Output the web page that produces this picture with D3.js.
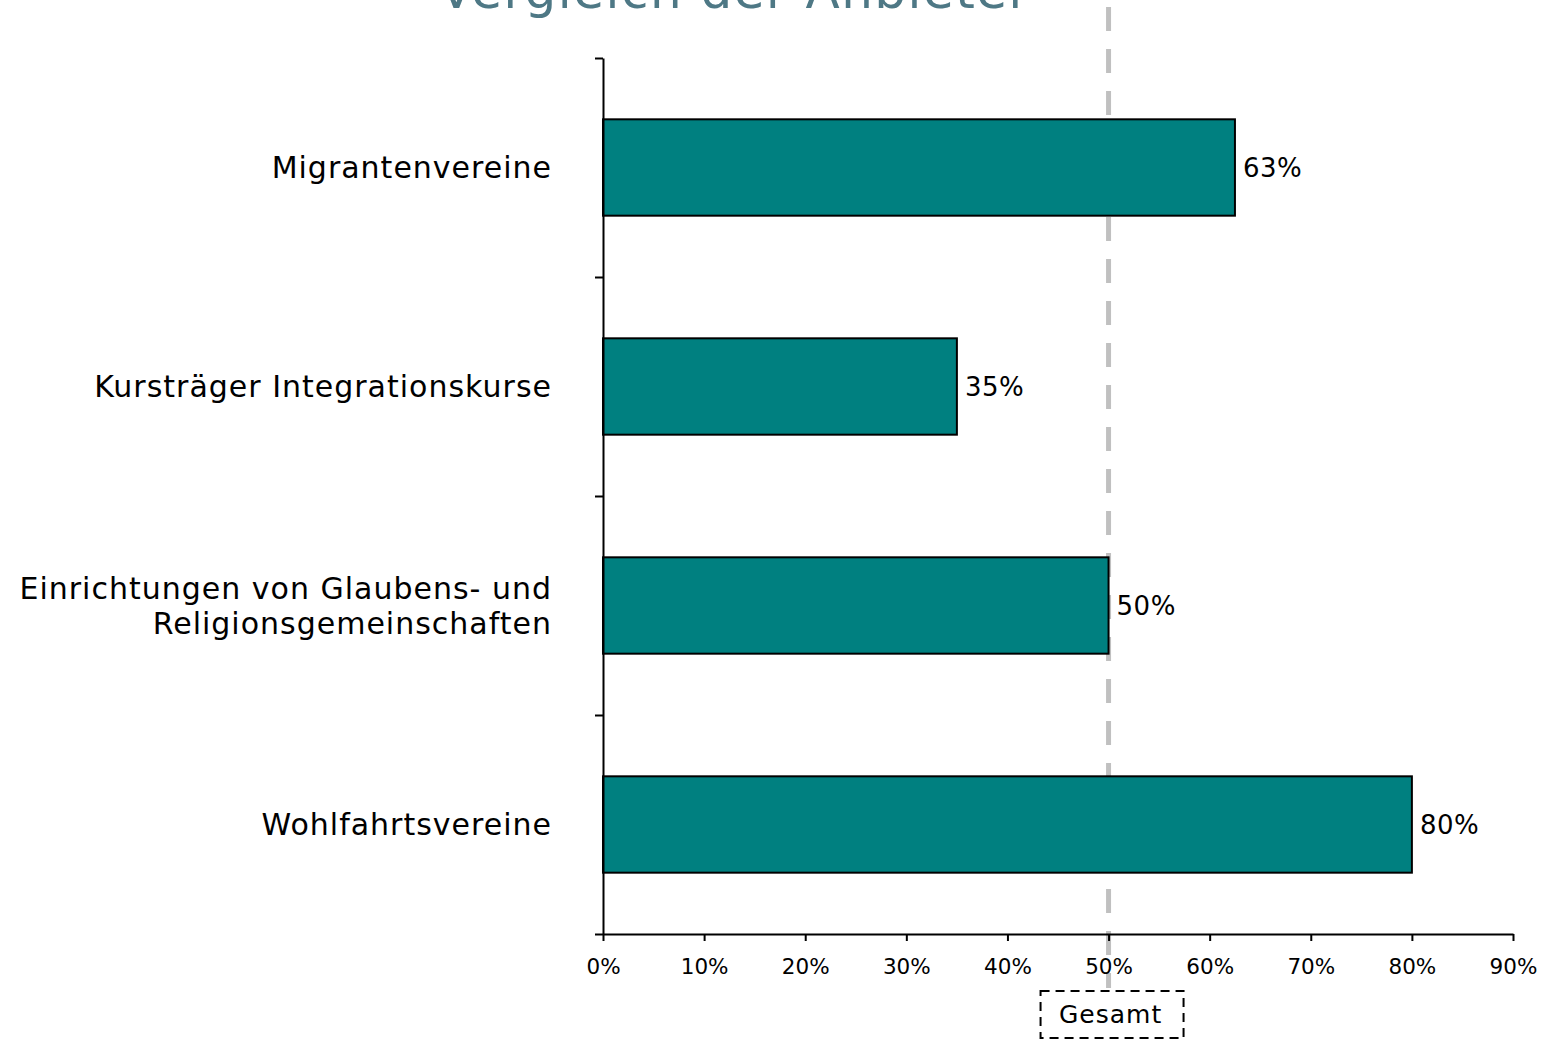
<!DOCTYPE html>
<html>
<head>
<meta charset="utf-8">
<script src="https://cdn.jsdelivr.net/npm/d3@7"></script>
<style>
  body { margin: 0; background: #fff; }
  svg { display: block; font-family: "DejaVu Sans", Verdana, sans-serif; }
</style>
</head>
<body>
<div id="graph"></div>
<script>
// data
const categories = ["Migrantenvereine", "Kursträger Integrationskurse", "Einrichtungen von Glaubens- und\nReligionsgemeinschaften", "Wohlfahrtsvereine"];
const values = [62.5, 35, 50, 80];
const xTicks = [0, 10, 20, 30, 40, 50, 60, 70, 80, 90];
const totalValue = 50;
const totalLabel = "Gesamt";
const title = "Vergleich der Anbieter";

let width = 1546, height = 1040;
let margin = {top: 58, right: 33, bottom: 106, left: 603};

let svg = d3.select("#graph").append("svg")
    .attr("width", width)
    .attr("height", height);

let x = d3.scaleLinear().domain([0, 90]).range([margin.left, width - margin.right]);
let y = d3.scaleBand().domain(categories).range([margin.top, height - margin.bottom])
    .paddingInner(0.56).paddingOuter(0.28);
// band boundaries for the y tick marks
let yb = d3.scaleLinear().domain([0, categories.length]).range([margin.top, height - margin.bottom]);

// title (cut off at the top like in the original)
svg.append("text")
    .attr("x", 735)
    .attr("y", 8)
    .attr("text-anchor", "middle")
    .attr("font-size", 50)
    .attr("letter-spacing", 1.5)
    .attr("fill", "#4e7885")
    .text(title);

// reference line (Gesamt), behind the bars
svg.append("line")
    .attr("x1", x(totalValue)).attr("x2", x(totalValue))
    .attr("y1", 7).attr("y2", 988)
    .attr("stroke", "#c0c0c0")
    .attr("stroke-width", 5)
    .attr("stroke-dasharray", "24,18");

// bars
svg.selectAll("rect.bar")
    .data(values)
    .enter().append("rect")
    .attr("class", "bar")
    .attr("x", x(0))
    .attr("y", (d, i) => y(categories[i]))
    .attr("width", d => x(d) - x(0))
    .attr("height", y.bandwidth())
    .attr("fill", "#008080")
    .attr("stroke", "#000")
    .attr("stroke-width", 2);

// value labels
svg.selectAll("text.val")
    .data(values)
    .enter().append("text")
    .attr("class", "val")
    .attr("x", d => x(d) + 8)
    .attr("y", (d, i) => y(categories[i]) + y.bandwidth() / 2)
    .attr("dy", "0.35em")
    .attr("font-size", 26)
    .attr("letter-spacing", 0.5)
    .attr("fill", "#000")
    .text(d => Math.round(d) + "%");

// x axis
let xAxis = svg.append("g")
    .attr("transform", "translate(0," + (height - margin.bottom) + ")")
    .call(d3.axisBottom(x).tickValues(xTicks).tickSize(7).tickSizeOuter(0).tickFormat(d => d + "%"));
xAxis.select(".domain").attr("stroke-width", 2);
xAxis.selectAll(".tick line").attr("stroke-width", 2);
xAxis.selectAll(".tick text")
    .attr("font-size", 21.5)
    .attr("font-family", "DejaVu Sans, Verdana, sans-serif")
    .attr("fill", "#000")
    .attr("dy", "1.4em");

// y axis
let yAxis = svg.append("g")
    .attr("transform", "translate(" + margin.left + ",0)")
    .call(d3.axisLeft(yb).ticks(categories.length).tickSize(8).tickSizeOuter(0).tickFormat(""));
yAxis.select(".domain").attr("stroke-width", 2);
yAxis.selectAll(".tick line").attr("stroke-width", 2);

// category labels
let lineH = 35;
svg.selectAll("text.cat")
    .data(categories)
    .enter().append("text")
    .attr("class", "cat")
    .attr("text-anchor", "end")
    .attr("font-size", 30)
    .attr("letter-spacing", 1)
    .attr("fill", "#000")
    .each(function(d) {
        let lines = d.split("\n");
        let cy = y(d) + y.bandwidth() / 2;
        let t = d3.select(this);
        lines.forEach((l, j) => {
            t.append("tspan")
                .attr("x", margin.left - 51)
                .attr("y", cy + (j - (lines.length - 1) / 2) * lineH)
                .attr("dy", "0.35em")
                .text(l);
        });
    });

// Gesamt legend box
let gx = x(totalValue) + 2;
let box = svg.append("g").attr("transform", "translate(" + gx + ",1014)");
box.append("rect")
    .attr("x", -70).attr("y", -23)
    .attr("width", 143).attr("height", 47)
    .attr("fill", "#fff")
    .attr("stroke", "#000")
    .attr("stroke-width", 2)
    .attr("stroke-dasharray", "9,6");
box.append("text")
    .attr("text-anchor", "middle")
    .attr("dy", "0.35em")
    .attr("font-size", 25)
    .attr("letter-spacing", 1)
    .attr("fill", "#000")
    .text(totalLabel);
</script>
</body>
</html>
